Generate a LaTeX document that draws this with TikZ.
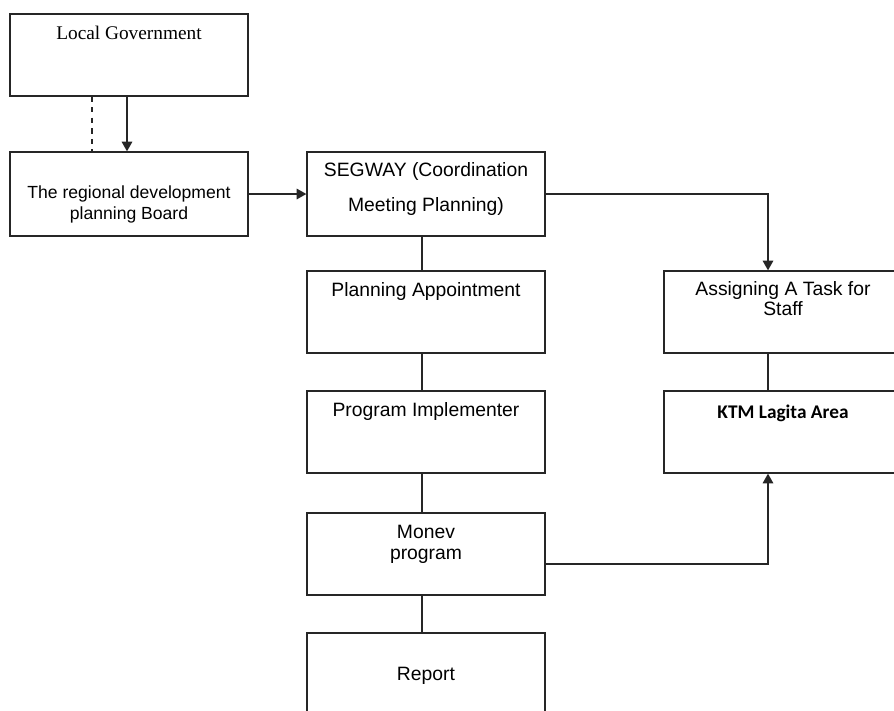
\documentclass[tikz,border=0pt]{standalone}
\usepackage{fontspec}
\setmainfont{Liberation Sans}
\newfontfamily\timesfont{Liberation Serif}
\newfontfamily\calibrifont{Carlito}
\usetikzlibrary{positioning,arrows.meta}
\def\boxw{4.76cm}
\tikzset{
  box/.style={draw=black!85, line width=0.75pt, minimum width=\boxw, minimum height=1.64cm, inner sep=0pt},
  txt/.style={inner sep=0pt, align=center, font=\fontsize{11}{13.5}\selectfont},
  link/.style={draw=black!85, line width=0.75pt},
  arr/.style={link, -{Triangle[length=5.5pt,width=6pt]}}
}

\begin{document}
\begin{tikzpicture}[x=0.02cm, y=-0.02cm]
  \useasboundingbox (0,0) rectangle (894,711);
  \clip (0,0) rectangle (894,711);

  % left column
  \node[box] (gov) at (129,55) {};
  \node[box, minimum height=1.68cm] (board) at (129,194) {};
  \node[txt, font=\timesfont\fontsize{11}{13}\selectfont, below=0.24cm of gov.north] (govtxt) {Local Government};
  \node[txt, font=\fontsize{10}{12}\selectfont] (boardtxt) at (129,204) {The regional development\\planning Board};

  % middle column
  \node[box, minimum height=1.68cm] (seg) at (426,194) {};
  \node[box] (plan) at (426,312) {};
  \node[box] (impl) at (426,432) {};
  \node[box] (monev) at (426,554) {};
  \node[box] (report) at (426,674) {};
  \node[txt, font=\fontsize{11}{20}\selectfont, below=0.22cm of seg.north] (segtxt) {SEGWAY (Coordination\\Meeting Planning)};
  \node[txt, below=0.24cm of plan.north] (plantxt) {Planning Appointment};
  \node[txt, below=0.24cm of impl.north] (impltxt) {Program Implementer};
  \node[txt, font=\fontsize{11}{12.5}\selectfont, below=0.24cm of monev.north] (monevtxt) {Monev\\program};
  \node[txt, below=0.7cm of report.north] (reporttxt) {Report};

  % right column
  \node[box] (task) at (783,312) {};
  \node[box] (ktm) at (783,432) {};
  \node[txt, font=\fontsize{11}{11.5}\selectfont, below=0.22cm of task.north] (tasktxt) {Assigning A Task for\\Staff};
  \node[txt, font=\calibrifont\bfseries\fontsize{11}{13}\selectfont, below=0.28cm of ktm.north] (ktmtxt) {KTM Lagita Area};

  % connectors
  \draw[arr] ([xshift=-0.04cm]gov.south) -- ([xshift=-0.04cm]board.north);
  \draw[link, dashed] ([xshift=-0.74cm]gov.south) -- ([xshift=-0.74cm]board.north);
  \draw[arr] (board.east) -- (seg.west);
  \draw[arr] (seg.east) -| ([xshift=-0.3cm]task.north);
  \draw[link] ([xshift=-0.08cm]seg.south) -- ([xshift=-0.08cm]plan.north);
  \draw[link] ([xshift=-0.08cm]plan.south) -- ([xshift=-0.08cm]impl.north);
  \draw[link] ([xshift=-0.08cm]impl.south) -- ([xshift=-0.08cm]monev.north);
  \draw[link] ([xshift=-0.08cm]monev.south) -- ([xshift=-0.08cm]report.north);
  \draw[link] ([xshift=-0.3cm]task.south) -- ([xshift=-0.3cm]ktm.north);
  \draw[arr] ([yshift=-0.2cm]monev.east) -| ([xshift=-0.3cm]ktm.south);
\end{tikzpicture}
\end{document}
